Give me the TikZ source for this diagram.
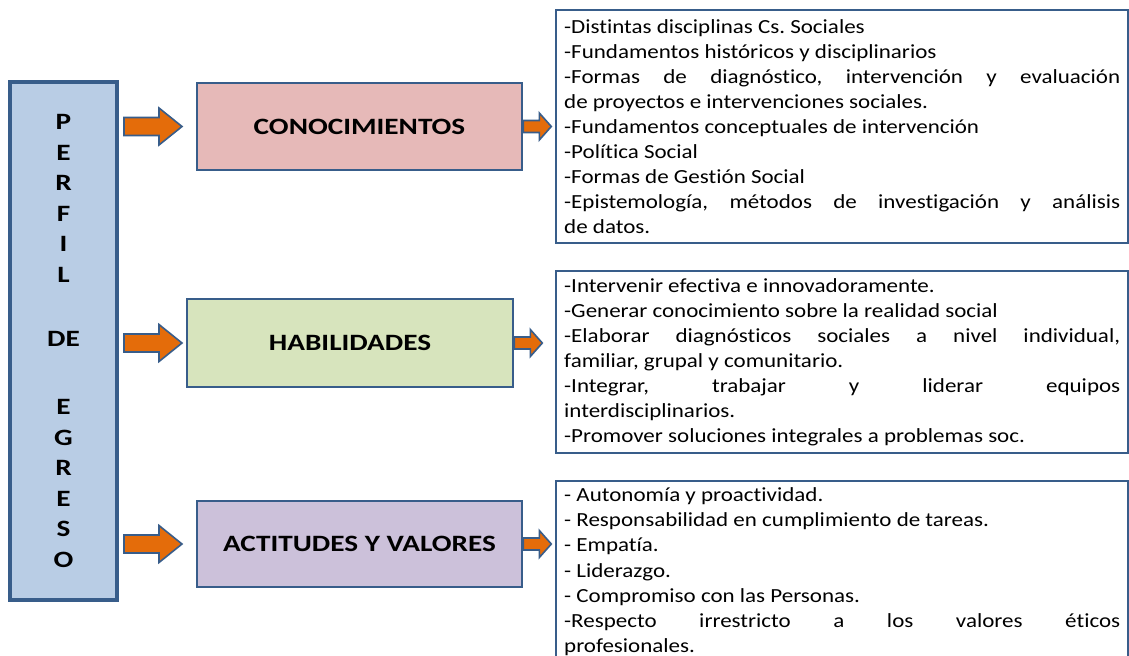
\documentclass[tikz,border=0pt]{standalone}
\usepackage{fontspec}
\setmainfont{Carlito}[FakeStretch=1.15,Ligatures=NoCommon]
\newfontfamily\titulo{Carlito}[FakeStretch=1.25,Ligatures=NoCommon]
\usetikzlibrary{calc}
\definecolor{bordeazul}{HTML}{385D8A}
\definecolor{azulclaro}{HTML}{B9CDE5}
\definecolor{rosa}{HTML}{E6B9B8}
\definecolor{verde}{HTML}{D7E4BD}
\definecolor{lila}{HTML}{CCC1DA}
\definecolor{naranja}{HTML}{E46C0A}
\setlength{\parindent}{0pt}
\frenchspacing
\hyphenpenalty=10000 \exhyphenpenalty=10000 \tolerance=10000 \hbadness=10000
\tikzset{
  categoria/.style={draw=bordeazul,line width=1.3pt,rectangle,minimum width=162.5pt,minimum height=43.5pt,font=\titulo\bfseries\fontsize{11.7}{14}\selectfont},
  lista/.style={draw=bordeazul,line width=1.2pt,fill=white,rectangle,text width=278pt,inner xsep=4pt,align=justify,font=\fontsize{10}{12.55}\selectfont},
  flecha/.style={draw=bordeazul,line width=0.8pt,fill=naranja,line join=miter}
}
% flecha de bloque: inicio, largo, medio cuerpo, media punta, largo punta
\newcommand{\bloque}[5]{%
  \filldraw[flecha] (#1) ++(0,-#3) -- ++(#2-#5,0) -- ++(0,#3-#4) -- ++(#5,#4) -- ++(-#5,#4) -- ++(0,#3-#4) -- ++(-#2+#5,0) -- cycle;}
\begin{document}
\begin{tikzpicture}[x=0.5pt,y=-0.5pt]
        \clip (0,0) rectangle (1129,655);
        \fill[white] (0,0) rectangle (1129,655);
        %% Perfil
        \node[draw=bordeazul,line width=2pt,fill=azulclaro,minimum width=53.5pt,minimum height=259pt,align=center,font=\titulo\bfseries\fontsize{11.7}{15.3}\selectfont] (perfil) at (63.5,341) {P\\E\\R\\F\\I\\L\\[16.7pt]DE\\[18.7pt]E\\G\\R\\E\\S\\O};
        %% Categorias
        \node[categoria,fill=rosa] (cono) at (359.5,126.5) {CONOCIMIENTOS};
        \node[categoria,fill=verde,minimum width=163pt,minimum height=44pt] (habi) at (350,343) {HABILIDADES};
        \node[categoria,fill=lila,minimum height=43pt] (acti) at (359.5,544) {ACTITUDES Y VALORES};
        %% Listas
        \node[lista,minimum height=116.5pt,anchor=north west] (lista1) at (555,9) {-Distintas disciplinas Cs. Sociales\par
          -Fundamentos históricos y disciplinarios\par
          -Formas de diagnóstico, intervención y evaluación\linebreak de proyectos e intervenciones sociales.\par
          -Fundamentos conceptuales de intervención\par
          -Política Social\par
          -Formas de Gestión Social\par
          -Epistemología, métodos de investigación y análisis\linebreak de datos.};
        \node[lista,minimum height=91pt,anchor=north west] (lista2) at (555,270) {-Intervenir efectiva e innovadoramente.\par
          -Generar conocimiento sobre la realidad social\par
          -Elaborar diagnósticos sociales a nivel individual,\linebreak familiar, grupal y comunitario.\par
          -Integrar, trabajar y liderar equipos\linebreak interdisciplinarios.\par
          -Promover soluciones integrales a problemas soc.};
        \node[lista,minimum height=87pt,anchor=north west] (lista3) at (555,480) {- Autonomía y proactividad.\par
          - Responsabilidad en cumplimiento de tareas.\par
          - Empatía.\par
          - Liderazgo.\par
          - Compromiso con las Personas.\par
          -Respecto irrestricto a los valores éticos\linebreak profesionales.};
        %% Flechas
        \bloque{$(perfil.east |- cono)+(5,0)$}{58}{9}{18.5}{23}
        \bloque{$(perfil.east |- habi)+(5,0)$}{58}{9}{18.5}{23}
        \bloque{$(perfil.east |- acti)+(5,0)$}{58}{9}{18.5}{23}
        \bloque{cono.east}{28}{6}{13.5}{12}
        \bloque{habi.east}{28}{6}{13.5}{12}
        \bloque{acti.east}{28}{6}{13.5}{12}
\end{tikzpicture}
\end{document}
